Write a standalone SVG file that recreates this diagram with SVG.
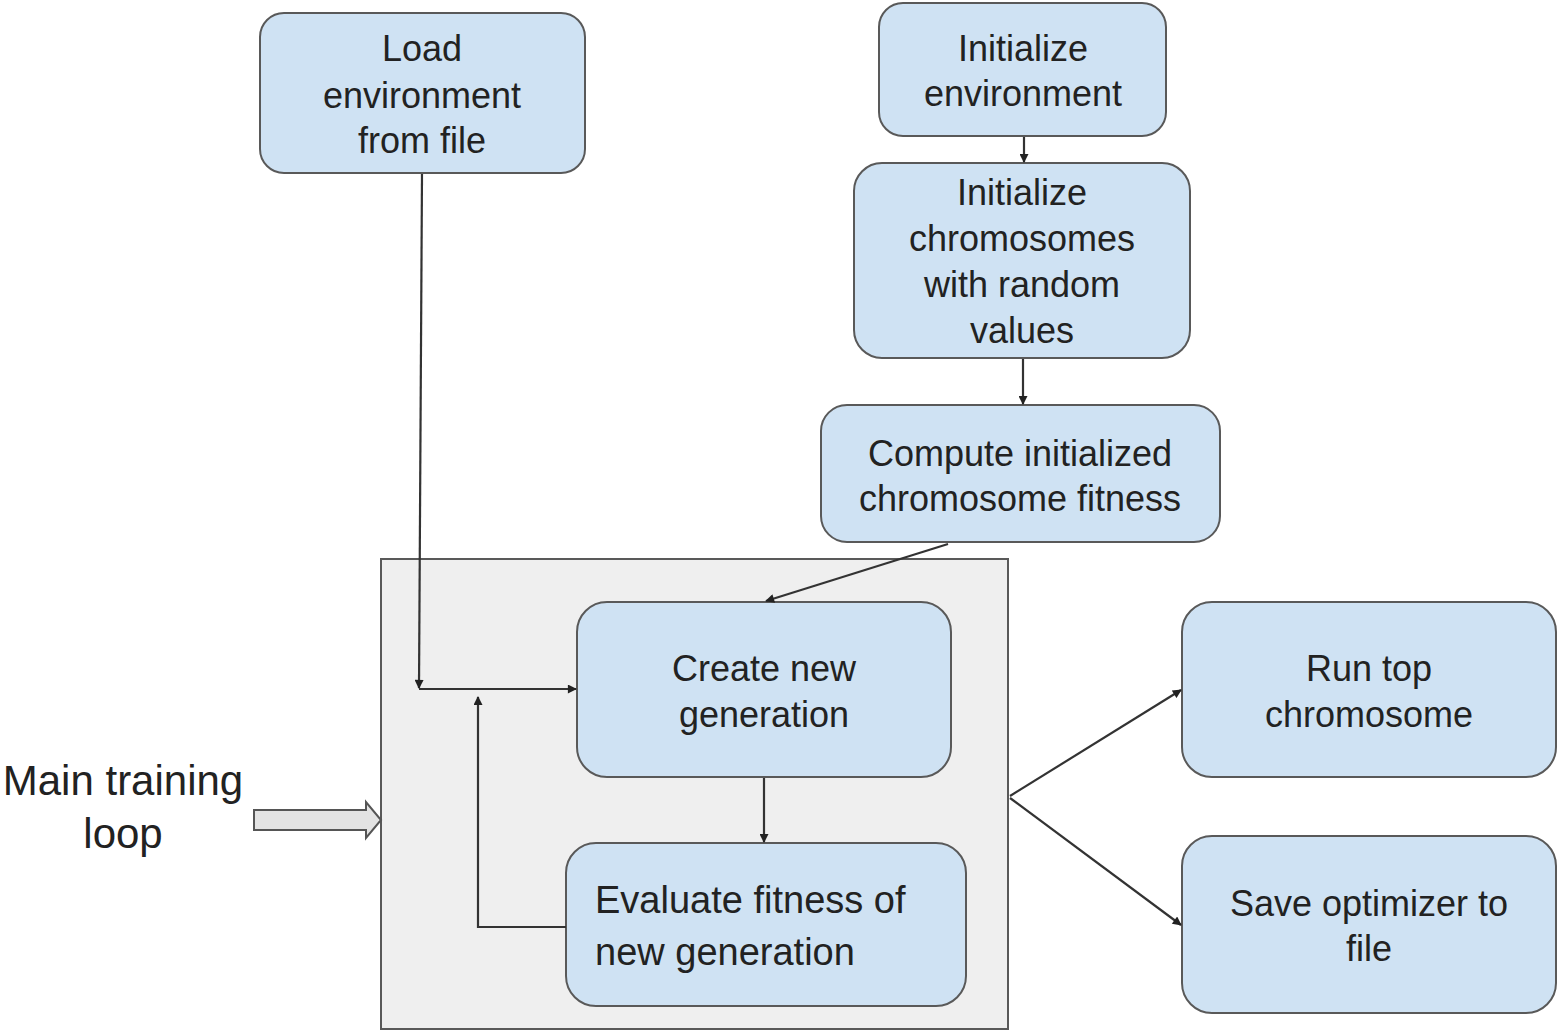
<svg xmlns="http://www.w3.org/2000/svg" width="1558" height="1032" viewBox="0 0 1558 1032">
<style>
.box{fill:#cfe2f3;stroke:#595959;stroke-width:2}
.t{font-family:"Liberation Sans",Arial,sans-serif;font-size:36px;fill:#222;text-anchor:middle}
.c{fill:none;stroke:#333;stroke-width:2.2;marker-end:url(#ah)}
</style>
<defs>
<marker id="ah" viewBox="0 0 10 10" refX="9" refY="5" markerWidth="11" markerHeight="9" markerUnits="userSpaceOnUse" orient="auto"><path d="M0,0 L10,5 L0,10 z" fill="#222"/></marker>
</defs>
<rect width="1558" height="1032" fill="#fff"/>
<g id="loop-container">
<rect x="381" y="559" width="627" height="470" fill="#efefef" stroke="#595959" stroke-width="2"/>
</g>
<g id="load-env"><rect class="box" x="260" y="13" width="325" height="160" rx="24"/>
<text class="t" x="422" y="61">Load</text><text class="t" x="422" y="108">environment</text><text class="t" x="422" y="153">from file</text></g>
<g id="init-env"><rect class="box" x="879" y="3" width="287" height="133" rx="24"/>
<text class="t" x="1023" y="61">Initialize</text><text class="t" x="1023" y="106">environment</text></g>
<g id="init-chrom"><rect class="box" x="854" y="163" width="336" height="195" rx="28"/>
<text class="t" x="1022" y="205">Initialize</text><text class="t" x="1022" y="251">chromosomes</text><text class="t" x="1022" y="297">with random</text><text class="t" x="1022" y="343">values</text></g>
<g id="compute"><rect class="box" x="821" y="405" width="399" height="137" rx="26"/>
<text class="t" x="1020" y="466">Compute initialized</text><text class="t" x="1020" y="511">chromosome fitness</text></g>
<g id="create"><rect class="box" x="577" y="602" width="374" height="175" rx="30"/>
<text class="t" x="764" y="681">Create new</text><text class="t" x="764" y="727">generation</text></g>
<g id="evaluate"><rect class="box" x="566" y="843" width="400" height="163" rx="30"/>
<text class="t" x="595" y="913" style="text-anchor:start;font-size:38px">Evaluate fitness of</text><text class="t" x="595" y="965" style="text-anchor:start;font-size:38px">new generation</text></g>
<g id="run-top"><rect class="box" x="1182" y="602" width="374" height="175" rx="30"/>
<text class="t" x="1369" y="681">Run top</text><text class="t" x="1369" y="727">chromosome</text></g>
<g id="save"><rect class="box" x="1182" y="836" width="374" height="177" rx="30"/>
<text class="t" x="1369" y="916">Save optimizer to</text><text class="t" x="1369" y="961">file</text></g>
<g id="main-label">
<text class="t" x="123" y="795" style="font-size:42px">Main training</text><text class="t" x="123" y="848" style="font-size:42px">loop</text>
<path d="M254,810 L366,810 L366,802 L381,820 L366,838 L366,830 L254,830 z" fill="#e3e3e3" stroke="#555" stroke-width="2"/>
</g>
<g id="connectors">
<path class="c" d="M422,174 L419,688"/>
<path class="c" d="M419,689 L576,689"/>
<path class="c" d="M566,927 L478,927 L478,697"/>
<path class="c" d="M764,778 L764,842"/>
<path class="c" d="M948,544 L766,601"/>
<path class="c" d="M1024,137 L1024,162"/>
<path class="c" d="M1023,359 L1023,404"/>
<path class="c" d="M1010,796 L1181,690"/>
<path class="c" d="M1010,798 L1181,925"/>
</g>
</svg>
